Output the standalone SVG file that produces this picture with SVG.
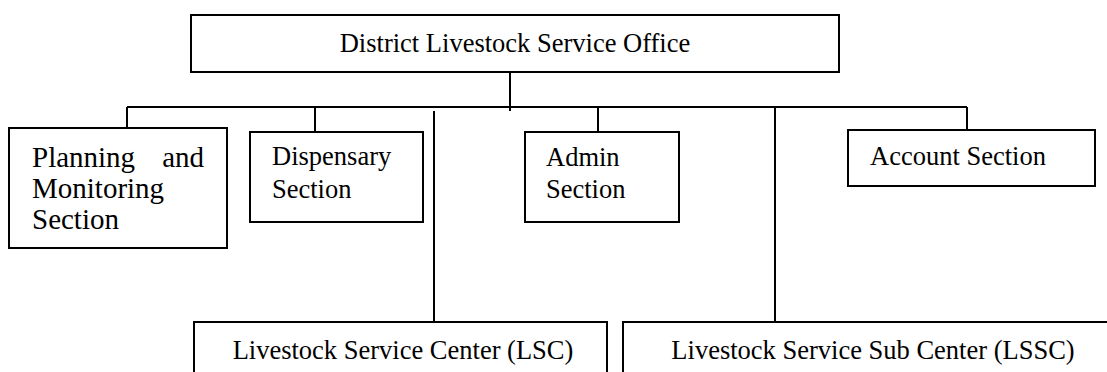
<svg xmlns="http://www.w3.org/2000/svg" width="1107" height="372" viewBox="0 0 1107 372">
  <style>
    .box { fill: #ffffff; stroke: #000000; stroke-width: 2; }
    .link { fill: none; stroke: #000000; stroke-width: 2; }
    .label { font-family: "Liberation Serif", "Times New Roman", serif; font-size: 26.5px; fill: #000000; }
    .label-lg { font-size: 29px; }
  </style>
  <rect x="0" y="0" width="1107" height="372" fill="#ffffff"/>

  <!-- connectors -->
  <g id="connectors">
    <path class="link" d="M510 72 V111"/>
    <path class="link" d="M127 107 H967"/>
    <path class="link" d="M127 107 V128"/>
    <path class="link" d="M315 107 V132"/>
    <path class="link" d="M598 107 V132"/>
    <path class="link" d="M967 107 V130"/>
    <path class="link" d="M434 111 V322"/>
    <path class="link" d="M775 107 V322"/>
  </g>

  <g id="district-office">
    <rect class="box" x="191" y="15" width="648" height="57"/>
    <text class="label" x="515" y="52" text-anchor="middle">District Livestock Service Office</text>
  </g>

  <g id="planning-monitoring">
    <rect class="box" x="9" y="128" width="218" height="120"/>
    <text class="label label-lg" x="32" y="167">Planning</text>
    <text class="label label-lg" x="204" y="167" text-anchor="end">and</text>
    <text class="label label-lg" x="32" y="198">Monitoring</text>
    <text class="label label-lg" x="32" y="229">Section</text>
  </g>

  <g id="dispensary">
    <rect class="box" x="250" y="132" width="173" height="90"/>
    <text class="label" x="272" y="165">Dispensary</text>
    <text class="label" x="272" y="198">Section</text>
  </g>

  <g id="admin">
    <rect class="box" x="525" y="132" width="154" height="90"/>
    <text class="label" x="546" y="166">Admin</text>
    <text class="label" x="546" y="198">Section</text>
  </g>

  <g id="account">
    <rect class="box" x="848" y="130" width="247" height="56"/>
    <text class="label" x="870" y="165">Account Section</text>
  </g>

  <g id="lsc">
    <rect class="box" x="194" y="322" width="413" height="70"/>
    <text class="label" x="403" y="359" text-anchor="middle">Livestock Service Center (LSC)</text>
  </g>

  <g id="lssc">
    <rect class="box" x="623" y="322" width="500" height="70"/>
    <text class="label" x="873" y="359" text-anchor="middle">Livestock Service Sub Center (LSSC)</text>
  </g>
</svg>
